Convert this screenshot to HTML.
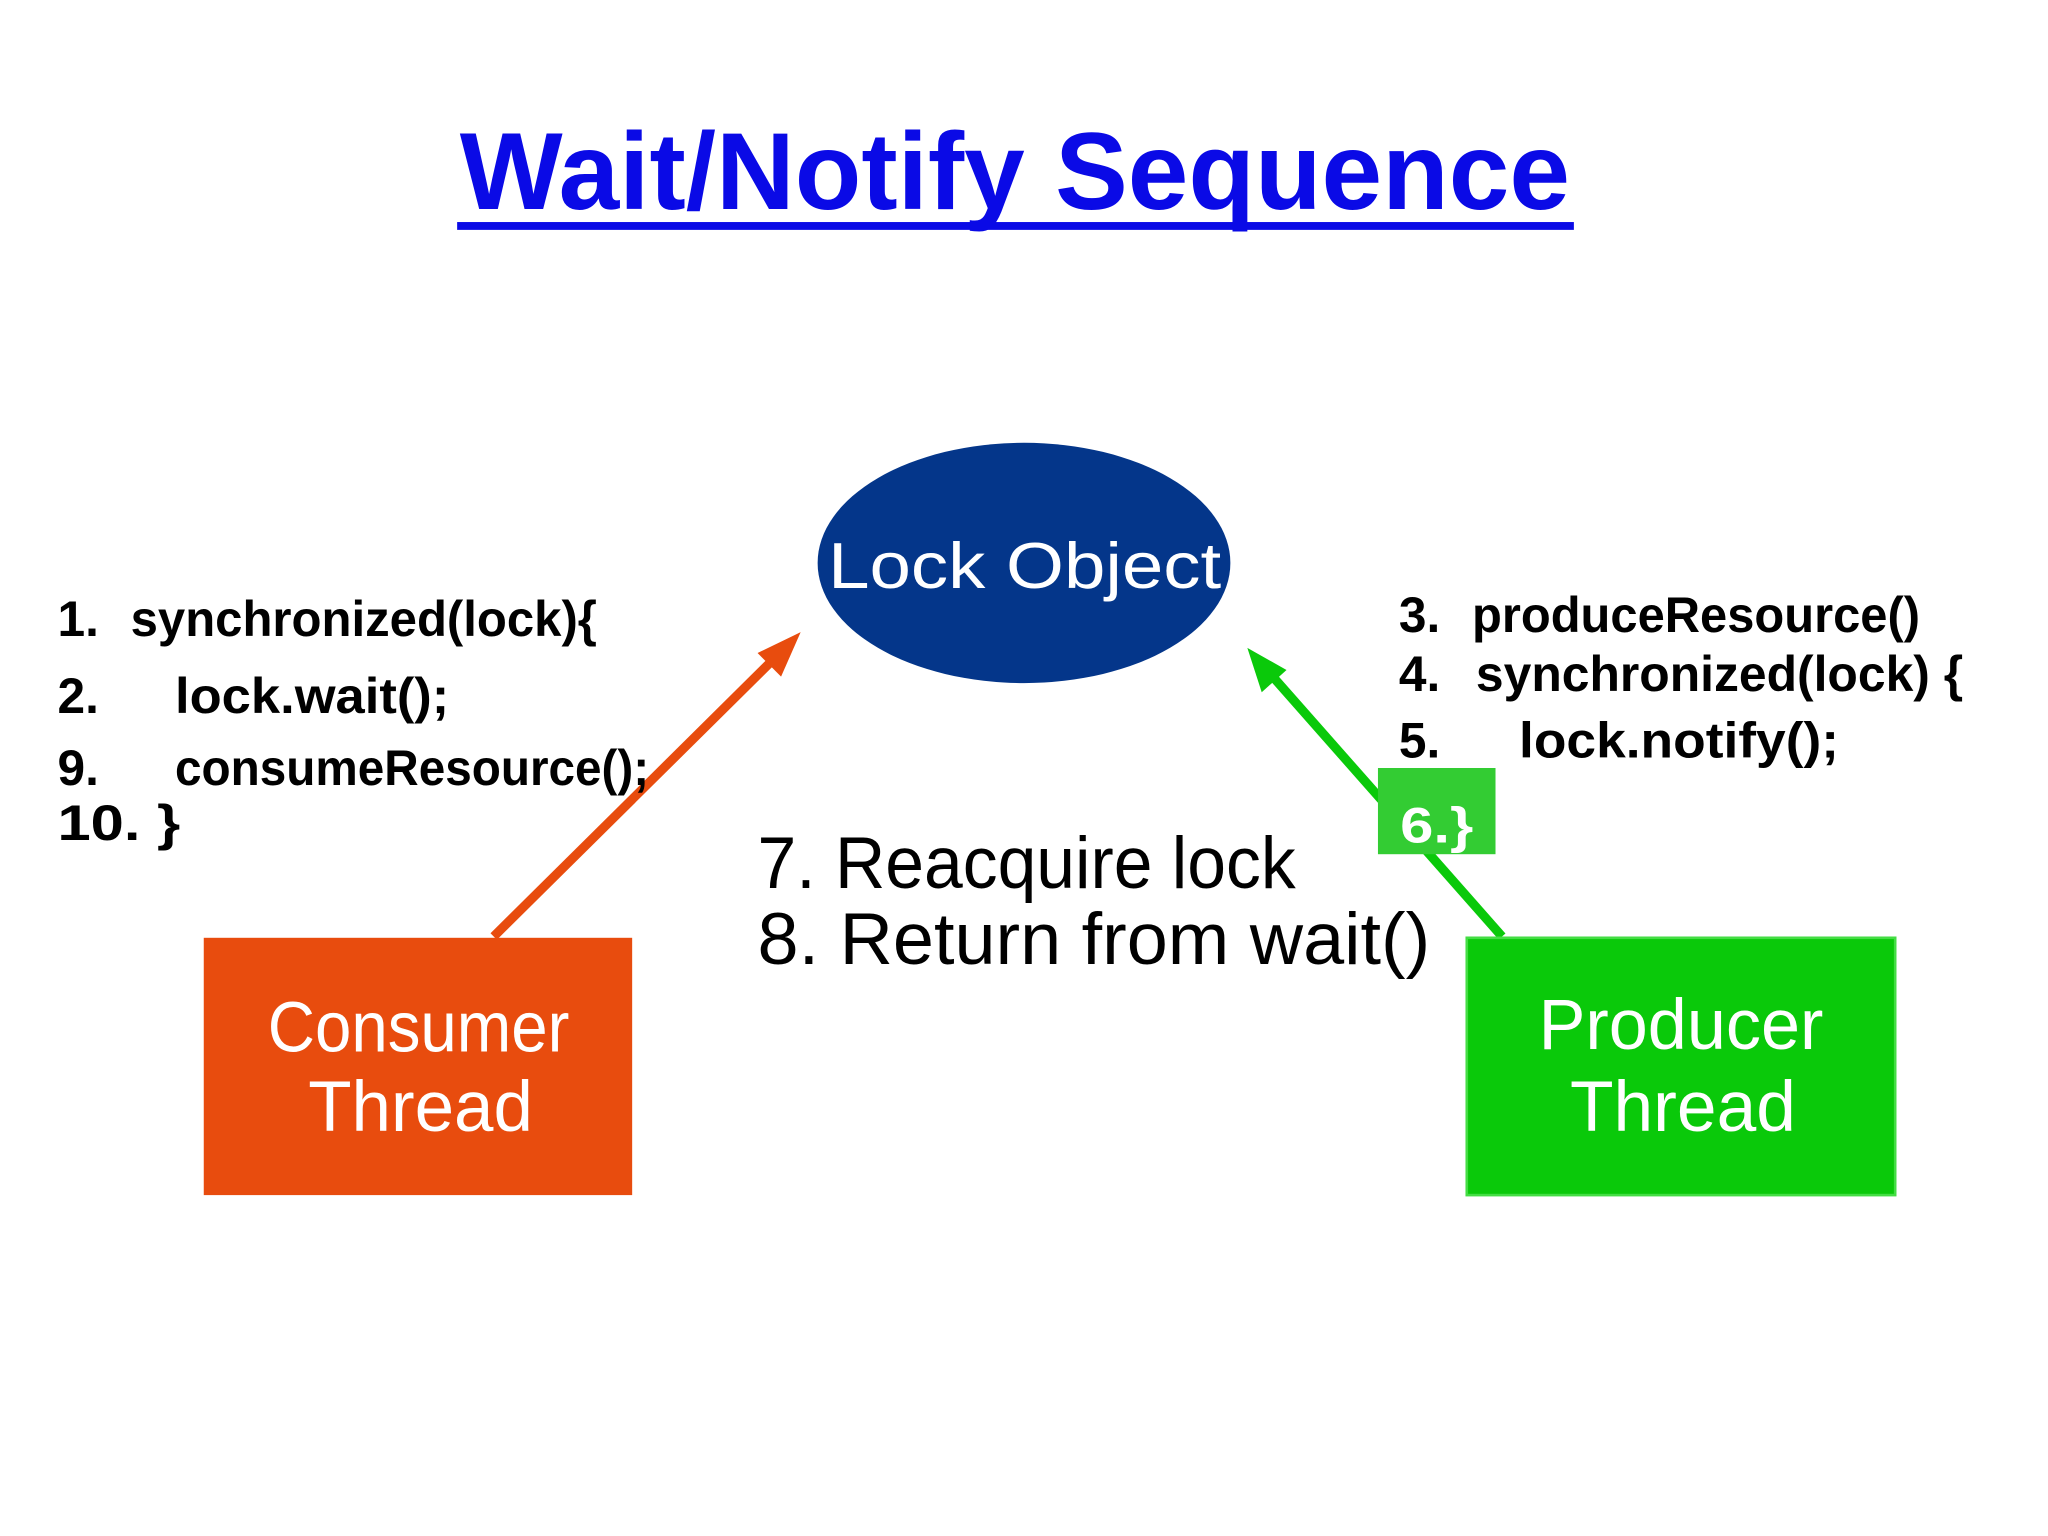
<!DOCTYPE html>
<html><head><meta charset="utf-8"><style>
html,body{margin:0;padding:0;background:#fff;}
svg{display:block;}
text{font-family:"Liberation Sans","DejaVu Sans",sans-serif;}
</style></head><body>
<svg width="2048" height="1536" viewBox="0 0 1568 1176" preserveAspectRatio="none" xmlns="http://www.w3.org/2000/svg">
<rect width="1568" height="1176" fill="#fff"/>
<text x="352" y="160" font-size="84" font-weight="bold" fill="#0a0ae6" textLength="850" lengthAdjust="spacingAndGlyphs">Wait/Notify Sequence</text>
<rect x="350" y="170" width="855" height="6" fill="#0a0ae6"/>

<ellipse cx="784" cy="431" rx="158" ry="92" fill="#04368a"/>
<text x="634" y="450" font-size="50" fill="#fff" textLength="301" lengthAdjust="spacingAndGlyphs">Lock Object</text>

<line x1="378" y1="717" x2="596" y2="501" stroke="#e84c0e" stroke-width="7"/>
<polygon points="613,484 580,500 598,518" fill="#e84c0e"/>
<line x1="1150" y1="717" x2="970" y2="513" stroke="#0ac90a" stroke-width="7"/>
<polygon points="955,496 966,530 985,513" fill="#0ac90a"/>

<rect x="156" y="718" width="328" height="197" fill="#e84c0e"/>
<text x="205" y="805" font-size="55" fill="#fff" textLength="231" lengthAdjust="spacingAndGlyphs">Consumer</text>
<text x="236" y="866" font-size="55" fill="#fff" textLength="172" lengthAdjust="spacingAndGlyphs">Thread</text>

<rect x="1123" y="718" width="328" height="197" fill="#0ac90a" stroke="#44dd44" stroke-width="2"/>
<text x="1178" y="803" font-size="55" fill="#fff" textLength="218" lengthAdjust="spacingAndGlyphs">Producer</text>
<text x="1202" y="866" font-size="55" fill="#fff" textLength="173" lengthAdjust="spacingAndGlyphs">Thread</text>

<rect x="1055" y="588" width="90" height="66" fill="#33cc33"/>
<text x="1072" y="645" font-size="38" font-weight="bold" fill="#fff" textLength="56" lengthAdjust="spacingAndGlyphs">6.}</text>

<g font-size="38" font-weight="bold" fill="#000">
<text x="44" y="487">1.</text>
<text x="100" y="487" textLength="357" lengthAdjust="spacingAndGlyphs">synchronized(lock){</text>
<text x="44" y="546">2.</text>
<text x="134" y="546" textLength="210" lengthAdjust="spacingAndGlyphs">lock.wait();</text>
<text x="44" y="601">9.</text>
<text x="134" y="601" textLength="363" lengthAdjust="spacingAndGlyphs">consumeResource();</text>
<text x="44" y="643" textLength="94" lengthAdjust="spacingAndGlyphs">10. }</text>

<text x="1071" y="484">3.</text>
<text x="1127" y="484" textLength="343" lengthAdjust="spacingAndGlyphs">produceResource()</text>
<text x="1071" y="529">4.</text>
<text x="1130" y="529" textLength="373" lengthAdjust="spacingAndGlyphs">synchronized(lock) {</text>
<text x="1071" y="580">5.</text>
<text x="1163" y="580" textLength="245" lengthAdjust="spacingAndGlyphs">lock.notify();</text>
</g>

<text x="580" y="680" font-size="56" fill="#000" textLength="412" lengthAdjust="spacingAndGlyphs">7. Reacquire lock</text>
<text x="580" y="738" font-size="56" fill="#000" textLength="515" lengthAdjust="spacingAndGlyphs">8. Return from wait()</text>
</svg>
</body></html>
